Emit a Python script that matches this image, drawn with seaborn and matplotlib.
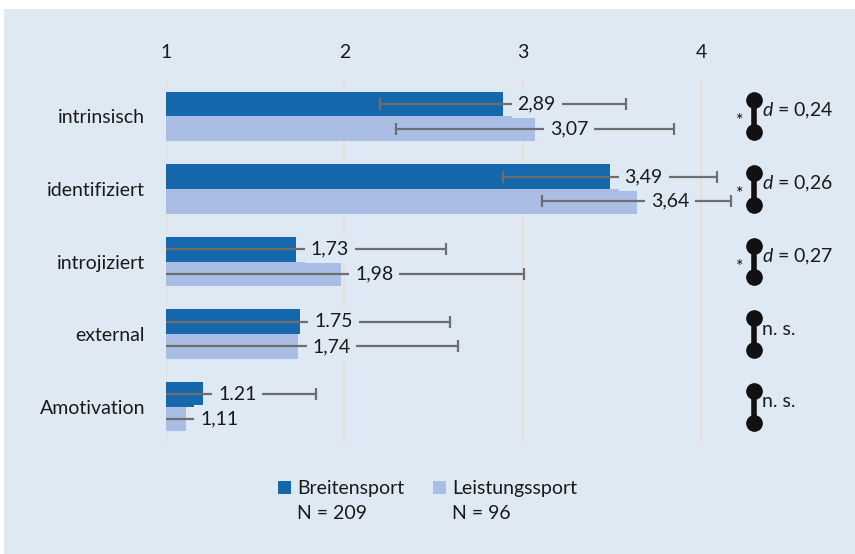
import matplotlib
matplotlib.use("Agg")
import matplotlib.pyplot as plt
import seaborn as sns
import pandas as pd
from matplotlib.patches import Rectangle, Patch

# Motivation regulation scores (scale 1-4) by sport group
categories = ["intrinsisch", "identifiziert", "introjiziert", "external", "Amotivation"]
groups = ["Breitensport", "Leistungssport"]
group_n = [209, 96]
breiten_mean = [2.89, 3.49, 1.73, 1.75, 1.21]
breiten_sd = [0.69, 0.60, 0.84, 0.84, 0.63]
leistung_mean = [3.07, 3.64, 1.98, 1.74, 1.11]
leistung_sd = [0.78, 0.53, 1.03, 0.90, 0.22]
# decimal mark printed in each value label
breiten_sep = [",", ",", ",", ".", "."]
leistung_sep = [",", ",", ",", ",", ","]
# group comparison per regulation
significant = [True, True, True, False, False]
effect_d = ["0,24", "0,26", "0,27", None, None]
x_ticks = [1, 2, 3, 4]

BG = "#dfe9f4"
DARK = "#1767ac"
LIGHT = "#aabde4"
ERR = "#6e6e6e"
TXT = "#1a1a1a"
FS = 14

sns.set_style("white")
plt.rcParams["font.family"] = ["Lato", "DejaVu Sans"]
plt.rcParams["mathtext.fontset"] = "custom"
plt.rcParams["mathtext.it"] = "Lato:italic"
plt.rcParams["mathtext.rm"] = "Lato"
plt.rcParams["text.color"] = TXT

df = pd.DataFrame({
    "Regulation": categories * 2,
    "Gruppe": [groups[0]] * len(categories) + [groups[1]] * len(categories),
    "Mittelwert": breiten_mean + leistung_mean,
})

W, H = 855, 554
fig = plt.figure(figsize=(W / 100, H / 100), dpi=100, facecolor="white")
fig.patches.append(Rectangle((4 / W, 0), 1 - 4 / W, 1 - 9 / H, transform=fig.transFigure,
                             facecolor=BG, edgecolor="none", zorder=-10))

ax = fig.add_axes([166 / W, 1 - 443 / H, (830 - 166) / W, (443 - 80) / H])
ax.set_facecolor(BG)

sns.barplot(data=df, y="Regulation", x="Mittelwert", hue="Gruppe", orient="h",
            palette=[DARK, LIGHT], width=0.68, errorbar=None, saturation=1,
            linewidth=0, legend=False, ax=ax)

ax.set_xlim(1, 4.724)
ax.set_ylim(4.5, -0.5)
ax.xaxis.tick_top()
ax.set_xticks(x_ticks)
ax.set_xticklabels([str(t) for t in x_ticks])
ax.tick_params(axis="x", length=0, pad=14, labelsize=FS, colors=TXT)
ax.tick_params(axis="y", length=0, pad=15, labelsize=FS, colors=TXT)
ax.set_xlabel("")
ax.set_ylabel("")
for s in ax.spines.values():
    s.set_visible(False)
ax.grid(axis="x", color="#e6e0da", lw=1.6)
ax.grid(axis="y", visible=False)
ax.set_axisbelow(True)

series = [(breiten_mean, breiten_sd, breiten_sep), (leistung_mean, leistung_sd, leistung_sep)]
for container, (means, sds, seps) in zip(ax.containers, series):
    centers = [p.get_y() + p.get_height() / 2 for p in container.patches]
    ax.errorbar(means, centers, xerr=sds, fmt="none", ecolor=ERR, elinewidth=1.6,
                capsize=4, capthick=1.6, zorder=3)
    for m, yc, sep in zip(means, centers, seps):
        label = f"{m:.2f}".replace(".", sep)
        ax.annotate(label, xy=(m, yc), xytext=(10.5, 0), textcoords="offset points",
                    ha="left", va="center", fontsize=FS, color=TXT, zorder=4,
                    bbox=dict(boxstyle="square,pad=0.3", fc=BG, ec="none"))

# significance dumbbells with effect sizes
for i, (sig, d) in enumerate(zip(significant, effect_d)):
    ax.plot([4.30, 4.30], [i - 0.22, i + 0.22], color="#111111", lw=4.0, marker="o",
            ms=11, solid_capstyle="butt", clip_on=False, zorder=5)
    if sig:
        ax.text(4.22, i + 0.07, "*", ha="center", va="center", fontsize=13,
                color="#111111", clip_on=False)
    text = f"$d$ = {d}" if d else "n. s."
    ax.text(4.345, i - 0.07, text, ha="left", va="center", fontsize=FS,
            color=TXT, clip_on=False)

blank = Patch(facecolor="none", edgecolor="none")
handles = [Patch(facecolor=DARK, edgecolor="none"), blank,
           Patch(facecolor=LIGHT, edgecolor="none"), blank]
labels = [groups[0], f"N = {group_n[0]}", groups[1], f"N = {group_n[1]}"]
fig.legend(handles=handles, labels=labels, ncol=2, loc="upper left",
           bbox_to_anchor=(278 / W, 1 - 480 / H), frameon=False, fontsize=FS,
           handlelength=0.68, handleheight=0.68, handletextpad=0.32,
           columnspacing=1.45, labelspacing=0.42, borderpad=0, borderaxespad=0)

fig.savefig("out.png", dpi=100, facecolor="white")
